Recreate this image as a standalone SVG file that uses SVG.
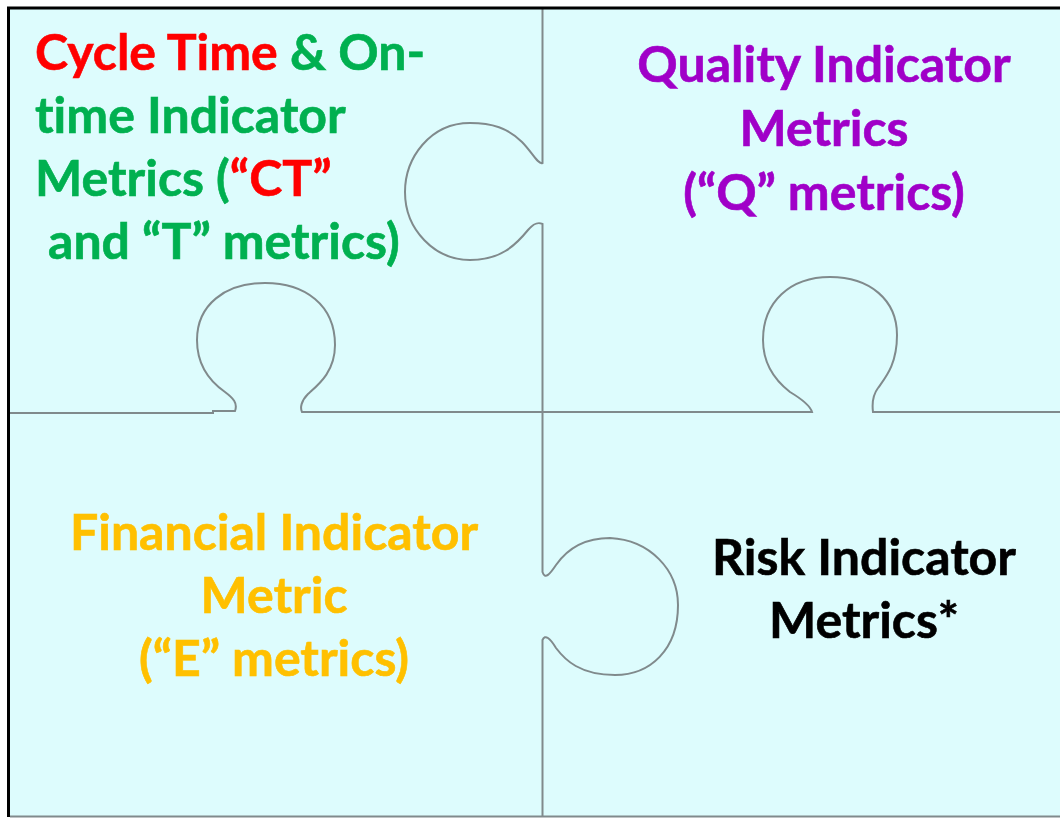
<svg xmlns="http://www.w3.org/2000/svg" width="1060" height="819" viewBox="0 0 1060 819">
<style>
.t{font-family:Lato,"Liberation Sans",sans-serif;font-weight:bold;font-size:50px;font-variant-ligatures:none;stroke-width:0.6px}
.g{fill:#00B050;stroke:#00B050}.r{fill:#FF0000;stroke:#FF0000}.p{fill:#A000C8;stroke:#A000C8}.o{fill:#FFC000;stroke:#FFC000}.k{fill:#000;stroke:#000}
.cut{fill:none;stroke:#808A8C;stroke-width:2}
</style>
<rect x="0" y="0" width="1060" height="819" fill="#fff"/>
<rect x="9" y="8" width="1051" height="809" fill="#DDFCFD"/>
<g id="connectors">
<path class="cut" d="M10,816.5 L1060,816.5"/>
<path class="cut" d="M542.5,9 L542.5,163 C538,165 532,152 522,142 C508,128 492,123 470,123 C430,123 405,158 405,192 C405,230 435,260 470,260 C500,260 515,246 528,230 C534,223 538,222 542.5,224 L542.5,572 C545,580 550,574 556,565 C570,545 590,538 610,538 C650,540 678,570 678,605 C678,650 650,675 615,675 C580,675 565,660 556,648 C550,638 545,634 542.5,640 L542.5,816"/>
<path class="cut" d="M10,413 L213,413 L213,411 L235,411 C238,403 233,398 225,392 C205,378 197,360 197,340 C197,305 225,283 265,283 C305,283 335,305 335,345 C335,372 318,385 308,394 C301,401 300,408 302,412 L812,412 C810,405 800,398 790,392 C772,378 763,360 763,340 C763,302 790,277 830,277 C870,277 897,300 897,335 C897,365 885,378 878,388 C872,396 872,404 873,412 L1060,412"/>
<path d="M8.5,817 L8.5,8 L1060,8" fill="none" stroke="#000" stroke-width="3"/>
</g>
<g id="ct">
<text class="t" x="35" y="70"><tspan class="r">Cycle Time</tspan><tspan class="g"> &amp; On-</tspan></text>
<text class="t g" x="35" y="133">time Indicator</text>
<text class="t g" x="35" y="196">Metrics (<tspan class="r">“CT”</tspan></text>
<text class="t g" x="48" y="259">and “T” metrics)</text>
</g>
<g id="q">
<text class="t p" x="824" y="82" text-anchor="middle">Quality Indicator</text>
<text class="t p" x="824" y="146" text-anchor="middle">Metrics</text>
<text class="t p" x="824" y="210" text-anchor="middle">(“Q” metrics)</text>
</g>
<g id="e">
<text class="t o" x="274" y="550" text-anchor="middle">Financial Indicator</text>
<text class="t o" x="274" y="613" text-anchor="middle">Metric</text>
<text class="t o" x="274" y="676" text-anchor="middle">(“E” metrics)</text>
</g>
<g id="risk">
<text class="t k" x="864" y="575" text-anchor="middle">Risk Indicator</text>
<text class="t k" x="864" y="638" text-anchor="middle">Metrics*</text>
</g>
</svg>
